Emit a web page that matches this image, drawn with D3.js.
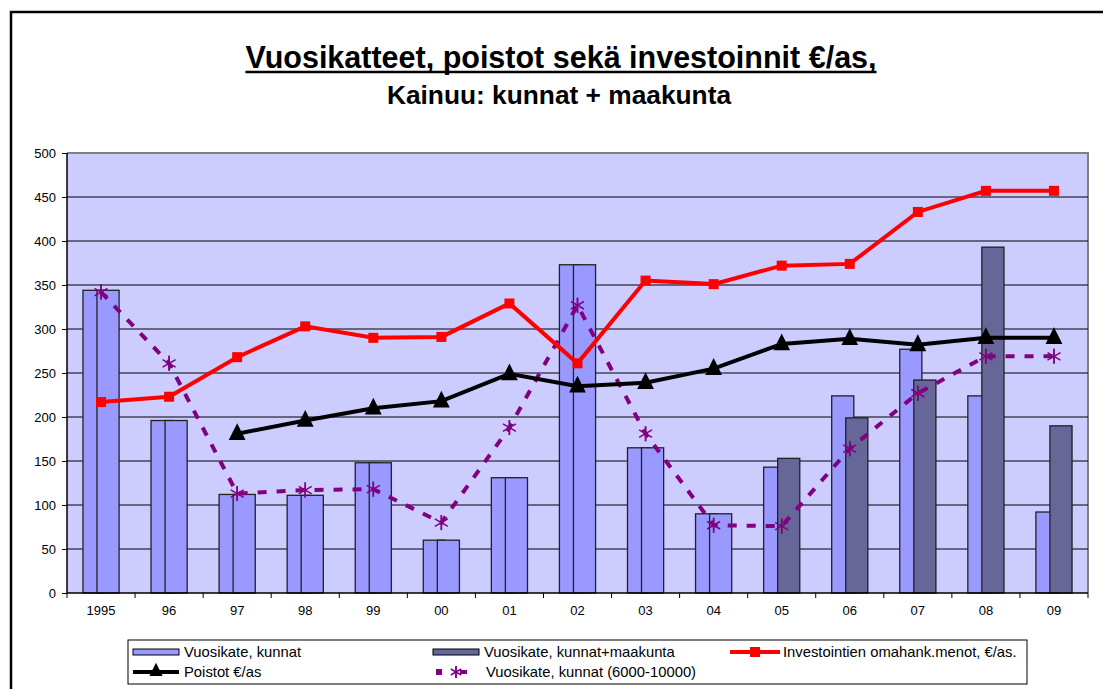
<!DOCTYPE html>
<html lang="en">
    <head>
        <meta charset="utf-8">
        <title>Vuosikatteet, poistot sekä investoinnit</title>
        <script src="https://d3js.org/d3.v7.min.js"></script>
        <style type="text/css">
        body { margin: 0; background: #fff; }
        svg { font-family: Arial, "Liberation Sans", sans-serif; }
        .title { font-size: 30.5px; font-weight: bold; }
        .subtitle { font-size: 26.3px; font-weight: bold; }
        .axis text { font-size: 13px; fill: #000; }
        .legend text { font-size: 14.8px; fill: #000; }
        </style>
    </head>
    <body>
        <svg width="1103" height="689"></svg>

    <script type="text/javascript">

            // data
            const years = ["1995", "96", "97", "98", "99", "00", "01", "02", "03", "04", "05", "06", "07", "08", "09"];
            const kunnat = [344, 196, 112, 111, 148, 60, 131, 373, 165, 90, 143, 224, 277, 224, 92];
            const kunnatMaakunta = [344, 196, 112, 111, 148, 60, 131, 373, 165, 90, 153, 199, 242, 393, 190];
            const investoinnit = [217, 223, 268, 303, 290, 291, 329, 261, 355, 351, 372, 374, 433, 457, 457];
            const poistot = [null, null, 181, 196, 210, 218, 249, 235, 239, 255, 283, 289, 282, 290, 290];
            const kunnatPienet = [342, 261, 113, 117, 118, 80, 188, 327, 181, 77, 76, 164, 227, 269, 269];
            const yTicks = [0, 50, 100, 150, 200, 250, 300, 350, 400, 450, 500];
            const maakuntaFrom = "05"; // before this the maakunta bar is drawn in the light colour

            const svg = d3.select("svg");
            const pLeft = 67, pRight = 1088, pTop = 153, pBottom = 593;

            const lightBar = "#9999FF", darkBar = "#666699";

            //outer frame
            svg.append("rect")
               .attr("x", 11).attr("y", 12)
               .attr("width", 1110).attr("height", 700)
               .attr("fill", "none").attr("stroke", "#000").attr("stroke-width", 2.5);

            //titles
            const title = svg.append("text")
               .attr("class", "title")
               .attr("x", 561).attr("y", 68)
               .attr("text-anchor", "middle")
               .text("Vuosikatteet, poistot sekä investoinnit €/as,");
            const tb = title.node().getBBox();
            svg.append("line")
               .attr("x1", tb.x).attr("x2", tb.x + tb.width)
               .attr("y1", 72).attr("y2", 72)
               .attr("stroke", "#000").attr("stroke-width", 2.5);
            svg.append("text")
               .attr("class", "subtitle")
               .attr("x", 559).attr("y", 104)
               .attr("text-anchor", "middle")
               .text("Kainuu: kunnat + maakunta");

            //scales
            const xScale = d3.scaleBand()
                             .domain(years)
                             .range([pLeft, pRight])
                             .paddingInner(0);
            const yScale = d3.scaleLinear()
                             .domain([0, 500])
                             .range([pBottom, pTop]);
            const bw = xScale.bandwidth();
            const barW = bw * 0.325;
            const shift = bw * 0.103;
            const mid = d => xScale(d) + bw / 2;

            //plot area
            svg.append("rect")
               .attr("x", pLeft).attr("y", pTop)
               .attr("width", pRight - pLeft).attr("height", pBottom - pTop)
               .attr("fill", "#CCCCFF");
            svg.append("path")
               .attr("d", `M${pLeft},${pTop}H${pRight}V${pBottom}`)
               .attr("fill", "none").attr("stroke", "#808080").attr("stroke-width", 2);

            //gridlines
            svg.append("g")
               .selectAll("line")
               .data(yTicks.filter(t => t > 0 && t < 500))
               .enter()
               .append("line")
               .attr("x1", pLeft).attr("x2", pRight)
               .attr("y1", d => yScale(d)).attr("y2", d => yScale(d))
               .attr("stroke", "#000").attr("stroke-width", 1);

            //bars
            const startIdx = years.indexOf(maakuntaFrom);
            svg.append("g")
               .selectAll("rect")
               .data(years)
               .enter()
               .append("rect")
               .attr("x", d => mid(d) - shift - barW / 2)
               .attr("y", (d, i) => yScale(kunnat[i]))
               .attr("width", barW)
               .attr("height", (d, i) => yScale(0) - yScale(kunnat[i]))
               .attr("fill", lightBar).attr("stroke", "#222").attr("stroke-width", 1.3);
            svg.append("g")
               .selectAll("rect")
               .data(years)
               .enter()
               .append("rect")
               .attr("x", d => mid(d) + shift - barW / 2)
               .attr("y", (d, i) => yScale(kunnatMaakunta[i]))
               .attr("width", barW)
               .attr("height", (d, i) => yScale(0) - yScale(kunnatMaakunta[i]))
               .attr("fill", (d, i) => i < startIdx ? lightBar : darkBar)
               .attr("stroke", "#222").attr("stroke-width", 1.3);

            //axes
            const leftAxis = d3.axisLeft(yScale).tickValues(yTicks).tickSize(5).tickPadding(6);
            const gy = svg.append("g")
               .attr("class", "axis")
               .attr("transform", "translate(" + pLeft + ",0)")
               .call(leftAxis);
            gy.select(".domain").remove();
            gy.selectAll("line").attr("stroke", "#000");
            svg.append("line")
               .attr("x1", pLeft).attr("x2", pLeft).attr("y1", pTop).attr("y2", pBottom)
               .attr("stroke", "#000").attr("stroke-width", 1.5);

            const bottomAxis = d3.axisBottom(xScale).tickSize(0).tickPadding(13);
            const gx = svg.append("g")
               .attr("class", "axis")
               .attr("transform", "translate(0," + pBottom + ")")
               .call(bottomAxis);
            gx.select(".domain").remove();
            svg.append("line")
               .attr("x1", pLeft).attr("x2", pRight).attr("y1", pBottom).attr("y2", pBottom)
               .attr("stroke", "#000").attr("stroke-width", 1.5);
            svg.append("g")
               .selectAll("line")
               .data(d3.range(years.length + 1))
               .enter()
               .append("line")
               .attr("x1", i => pLeft + i * bw).attr("x2", i => pLeft + i * bw)
               .attr("y1", pBottom).attr("y2", pBottom + 5)
               .attr("stroke", "#000");

            //lines
            const lineGen = d3.line()
                              .defined(d => d.v !== null)
                              .x(d => mid(d.year))
                              .y(d => yScale(d.v));
            const pts = arr => years.map((y, i) => ({year: y, v: arr[i]}));

            const star = (g, x, y, r, color) => {
                for (let a = 0; a < 3; a++) {
                    const ang = a * Math.PI / 3 + Math.PI / 6;
                    g.append("line")
                     .attr("x1", x - r * Math.cos(ang)).attr("y1", y - r * Math.sin(ang))
                     .attr("x2", x + r * Math.cos(ang)).attr("y2", y + r * Math.sin(ang))
                     .attr("stroke", color).attr("stroke-width", 1.5);
                }
                g.append("line")
                 .attr("x1", x).attr("x2", x).attr("y1", y - r).attr("y2", y + r)
                 .attr("stroke", color).attr("stroke-width", 1.5);
            };
            const tri = (g, x, y, s) => g.append("path")
                 .attr("d", `M${x},${y - s * 0.75}L${x + s * 0.6},${y + s * 0.45}L${x - s * 0.6},${y + s * 0.45}Z`)
                 .attr("fill", "#000");

            // purple dashed
            const gp = svg.append("g");
            gp.append("path")
              .datum(pts(kunnatPienet))
              .attr("d", lineGen)
              .attr("fill", "none").attr("stroke", "#800080")
              .attr("stroke-width", 4).attr("stroke-dasharray", "9,10");
            pts(kunnatPienet).forEach(d => star(gp, mid(d.year), yScale(d.v), 7.5, "#800080"));

            // black Poistot
            const gb = svg.append("g");
            gb.append("path")
              .datum(pts(poistot))
              .attr("d", lineGen)
              .attr("fill", "none").attr("stroke", "#000").attr("stroke-width", 4);
            pts(poistot).filter(d => d.v !== null).forEach(d => tri(gb, mid(d.year), yScale(d.v), 14));

            // red Investoinnit
            const gr = svg.append("g");
            gr.append("path")
              .datum(pts(investoinnit))
              .attr("d", lineGen)
              .attr("fill", "none").attr("stroke", "#FF0000").attr("stroke-width", 4);
            gr.selectAll("rect")
              .data(pts(investoinnit))
              .enter()
              .append("rect")
              .attr("x", d => mid(d.year) - 5).attr("y", d => yScale(d.v) - 5)
              .attr("width", 10).attr("height", 10)
              .attr("fill", "#FF0000");

            //legend
            const lg = svg.append("g").attr("class", "legend");
            lg.append("rect")
              .attr("x", 128).attr("y", 640).attr("width", 899).attr("height", 44)
              .attr("fill", "#fff").attr("stroke", "#000").attr("stroke-width", 1);
            const row1 = 652, row2 = 672;

            lg.append("rect").attr("x", 133).attr("y", row1 - 3).attr("width", 46).attr("height", 6)
              .attr("fill", lightBar).attr("stroke", "#000");
            lg.append("text").attr("x", 184).attr("y", row1 + 5).text("Vuosikate, kunnat");

            lg.append("rect").attr("x", 433).attr("y", row1 - 3).attr("width", 46).attr("height", 6)
              .attr("fill", darkBar).attr("stroke", "#000");
            lg.append("text").attr("x", 484).attr("y", row1 + 5).text("Vuosikate, kunnat+maakunta");

            lg.append("line").attr("x1", 730).attr("x2", 780).attr("y1", row1).attr("y2", row1)
              .attr("stroke", "#FF0000").attr("stroke-width", 4);
            lg.append("rect").attr("x", 750).attr("y", row1 - 5).attr("width", 10).attr("height", 10)
              .attr("fill", "#FF0000");
            lg.append("text").attr("x", 783).attr("y", row1 + 5).text("Investointien omahank.menot, €/as.");

            lg.append("line").attr("x1", 133).attr("x2", 179).attr("y1", row2).attr("y2", row2)
              .attr("stroke", "#000").attr("stroke-width", 4);
            tri(lg, 156, row2 - 1, 11);
            lg.append("text").attr("x", 184).attr("y", row2 + 5).text("Poistot €/as");

            lg.append("rect").attr("x", 436).attr("y", row2 - 3).attr("width", 6).attr("height", 6)
              .attr("fill", "#800080");
            star(lg, 456, row2, 6, "#800080");
            lg.append("line").attr("x1", 460).attr("x2", 467).attr("y1", row2).attr("y2", row2)
              .attr("stroke", "#800080").attr("stroke-width", 4);
            lg.append("text").attr("x", 486).attr("y", row2 + 5).text("Vuosikate, kunnat (6000-10000)");

        </script>
    </body>
</html>
